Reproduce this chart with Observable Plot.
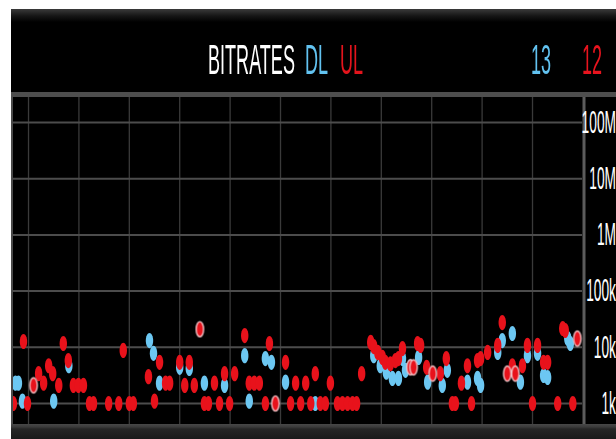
<!DOCTYPE html>
<html>
<head>
<meta charset="utf-8">
<script src="https://cdn.jsdelivr.net/npm/d3@7"></script>
<script src="https://cdn.jsdelivr.net/npm/@observablehq/plot@0.6"></script>
<style>
html,body{margin:0;padding:0;background:#fff;width:616px;height:439px;overflow:hidden;}
#wrap{position:absolute;left:11px;top:9px;width:605px;height:430px;background:#4a4a4a;overflow:hidden;}
#header{position:absolute;left:0;top:0;width:605px;height:83px;background:linear-gradient(#3a3a3a 0px,#151515 7px,#000 13px);}
#sep{position:absolute;left:0;top:83px;width:605px;height:5px;background:#4e4e4e;}
#plot{position:absolute;left:2px;top:88px;width:603px;height:327px;}
#bottom{position:absolute;left:0;top:415px;width:605px;height:15px;background:linear-gradient(#484848 0px,#3a3a3a 3px,#262626 5px,#1a1a1a 15px);}
.t{position:absolute;top:29.5px;white-space:nowrap;font-family:"Liberation Sans",Arial,sans-serif;font-size:42px;line-height:42px;transform-origin:0 0;transform:scaleX(0.43);}
</style>
</head>
<body>
<div id="wrap">
  <div id="header"></div>
  <div id="sep"></div>
  <div id="plot"></div>
  <div id="bottom"></div>
</div>
<script>
// ---- data ----
const titleText = "BITRATES";
const dlLabel = "DL";
const ulLabel = "UL";
const dlCount = "13";
const ulCount = "12";

const xGridTicks = [0, 10, 20, 30, 40, 50, 60, 70, 80, 90, 100];
const yTickValues = [1e3, 1e4, 1e5, 1e6, 1e7, 1e8];
const yTickLabels = ["1k", "10k", "100k", "1M", "10M", "100M"];

// DL (download) samples: time step, bitrate
const dlT = [-2.6, -2, -1.2, 5, 8, 24, 24.8, 26, 30, 31.9, 34.9, 38.9, 42.9, 43.8, 47, 48.2, 51, 56.9,
  68.5, 69.8, 71, 72.2, 73.4, 74.2, 74.8, 75.8, 77.4, 79.2, 82.1, 83.1, 87.1, 89.1, 89.7, 93.1, 94, 96,
  97.6, 99, 101, 102.2, 103, 107, 107.5];
const dlV = [2300, 2300, 1100, 1100, 4700, 13200, 7800, 2300, 4400, 4200, 2300, 2100, 7100, 1100, 6300, 5400, 2400, 1000,
  7100, 4700, 3600, 2800, 2800, 6300, 3900, 4500, 6600, 2400, 2100, 3900, 2400, 2800, 2100, 8100, 13200, 17600,
  2400, 7100, 7800, 3150, 2900, 14300, 11700];

// UL (upload) samples
const ulT = [-3, -1, -0.2, 2, 3, 4, 4.8, 6, 6.9, 7.9, 8.9, 9.9, 10.9, 12.1, 12.9, 15.9, 17.9, 18.8, 20, 20.8,
  23.8, 25, 26, 27.2, 28, 30, 31, 31.9, 32.9, 34.9, 35.7, 36.9, 37.9, 38.9, 39.9, 40.9, 42.9, 43.8, 44.8, 45.8,
  47, 47.8, 51, 52, 53, 54, 55, 56, 56.9, 57.9, 58.9, 59.9, 61.3, 62.3, 63.3, 64.3, 65.1, 66.1,
  67.9, 68.5, 69.3, 70.2, 70.8, 71.8, 72.8, 73.4, 74.2, 77.2, 77.8, 79, 81.7, 82.9, 84.1, 84.7, 85.9, 87.1, 87.9,
  89.1, 89.7, 91.1, 93.1, 94, 96, 98, 99, 100, 101, 102.2, 103, 105, 106, 106.5, 108];
const ulV = [1000, 12700, 1000, 3400, 2300, 4700, 3400, 2100, 11700, 5800, 2100, 2100, 2100, 1000, 1000, 1000, 1000, 8800, 1000, 1000,
  3000, 1100, 5400, 2300, 2300, 5400, 2100, 5400, 2100, 1000, 1000, 2300, 1000, 3400, 1000, 3400, 16200, 2300, 2300, 2300,
  1000, 11700, 5400, 1000, 2300, 1000, 2300, 1000, 3400, 1000, 1000, 2300, 1000, 1000, 1000, 1000, 1000, 3400,
  12200, 10300, 8100, 6600, 5400, 5100, 5800, 6300, 9500, 11700, 10800, 4400, 3400, 6300, 1000, 1000, 2300, 4700, 1000,
  5800, 6300, 8100, 10800, 27600, 4700, 4700, 10800, 1000, 10800, 5400, 5400, 1000, 21600, 19900, 1000];

// UL samples overlapping a DL sample (drawn with a light ring)
const ringT = [1, 34, 49, 75.8, 76.4, 80.2, 95, 96.6, 108.9];
const ringV = [2100, 21000, 1000, 4400, 4400, 3400, 3400, 3400, 14300];

// ---- header ----
const header = document.getElementById("header");
function addText(txt, left, color) {
  const s = document.createElement("div");
  s.className = "t";
  s.style.left = left + "px";
  s.style.color = color;
  s.textContent = txt;
  header.appendChild(s);
}
addText(titleText, 197, "#ffffff");
addText(dlLabel, 294, "#62c2f0");
addText(ulLabel, 329, "#e3141c");
addText(dlCount, 520, "#62c2f0");
addText(ulCount, 571, "#e8141e");

// ---- chart ----
const dl = dlT.map((t, i) => ({t, v: dlV[i]}));
const ul = ulT.map((t, i) => ({t, v: ulV[i]}));
const ring = ringT.map((t, i) => ({t, v: ringV[i]}));

const ellipse = {
  draw(ctx) {
    const rx = 3.7, ry = 7.6, k = 0.5523;
    ctx.moveTo(rx, 0);
    ctx.bezierCurveTo(rx, ry * k, rx * k, ry, 0, ry);
    ctx.bezierCurveTo(-rx * k, ry, -rx, ry * k, -rx, 0);
    ctx.bezierCurveTo(-rx, -ry * k, -rx * k, -ry, 0, -ry);
    ctx.bezierCurveTo(rx * k, -ry, rx, -ry * k, rx, 0);
    ctx.closePath();
  }
};

const xDomain = [-2.98, 109.92];
const yDomain = [423, 2.79e8];

const chart = Plot.plot({
  width: 603,
  height: 327,
  marginTop: 0,
  marginBottom: 0,
  marginLeft: 0,
  marginRight: 34,
  style: {background: "black", color: "white", overflow: "hidden"},
  x: {domain: xDomain, axis: null},
  y: {type: "log", domain: yDomain, axis: null},
  marks: [
    Plot.ruleX(xGridTicks, {stroke: "#3a3a3a", strokeWidth: 1.3}),
    Plot.ruleY(yTickValues, {stroke: "#4c4c4c", strokeWidth: 2}),
    Plot.ruleX([xDomain[1]], {stroke: "#5c5c5c", strokeWidth: 3, dx: 1.5}),
    Plot.text(yTickValues, {
      x: () => xDomain[1], y: d => d,
      text: (d, i) => yTickLabels[i],
      textAnchor: "end", dx: 33.5, fill: "white",
      fontSize: 32, fontFamily: "Liberation Sans, Arial, sans-serif"
    }),
    Plot.dot(dl, {x: "t", y: "v", symbol: ellipse, fill: "#6cc7f2", stroke: "none"}),
    Plot.dot(ul, {x: "t", y: "v", symbol: ellipse, fill: "#e8121b", stroke: "none"}),
    Plot.dot(ring, {x: "t", y: "v", symbol: ellipse, fill: "#e8121b", stroke: "#f2c4c8", strokeWidth: 1.4})
  ]
});

// condense the axis label glyphs horizontally, keeping their anchor point
chart.querySelectorAll("text").forEach(el => {
  const tr = el.getAttribute("transform") || "";
  el.setAttribute("transform", `${tr} scale(0.43,1)`);
});
chart.querySelectorAll('g[aria-label="dot"]').forEach(g => g.style.filter = "blur(0.5px)");

document.getElementById("plot").appendChild(chart);
</script>
</body>
</html>
